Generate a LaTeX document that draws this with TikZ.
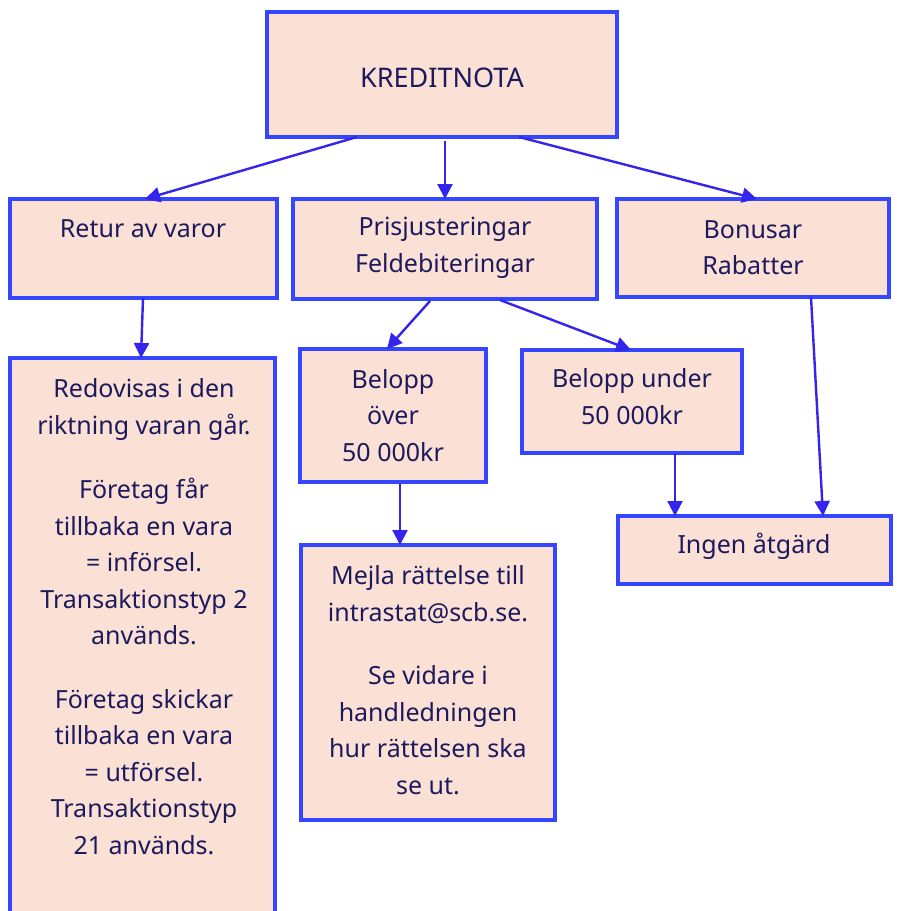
\documentclass[tikz,border=0pt]{standalone}
\usepackage{fontspec}
\setmainfont{Noto Sans}
\usetikzlibrary{arrows.meta,calc}
\definecolor{bord}{RGB}{52,70,255}
\definecolor{arr}{RGB}{52,36,236}
\definecolor{boxfill}{RGB}{251,224,213}
\definecolor{txtc}{RGB}{28,26,92}
\tikzset{
  box/.style={draw=bord, fill=boxfill, line width=4pt, anchor=north west, inner sep=0pt, outer sep=0pt},
  txt/.style={text=txtc, align=center, inner sep=0pt, font=\fontsize{25}{36.5}\selectfont},
  conn/.style={draw=arr, line width=2.4pt, -{Triangle[length=15pt,width=15pt]}},
}
\begin{document}
\begin{tikzpicture}[x=1pt,y=-1pt]
\clip (0,0) rectangle (897,911);
\fill[white] (0,0) rectangle (897,911);
% boxes
\node[box, minimum width=350, minimum height=125] (kred) at (267,12) {};
\node[box, minimum width=267, minimum height=99] (retur) at (10,199) {};
\node[box, minimum width=304, minimum height=100] (pris) at (293,199) {};
\node[box, minimum width=272, minimum height=98] (bonus) at (617,199) {};
\node[box, minimum width=265, minimum height=580] (redov) at (10,358) {};
\node[box, minimum width=186, minimum height=133] (over) at (300,349) {};
\node[box, minimum width=220, minimum height=103] (under) at (522,350) {};
\node[box, minimum width=254, minimum height=275] (mejla) at (301,545) {};
\node[box, minimum width=273, minimum height=68] (ingen) at (618,516) {};
% texts
\node[txt, font=\fontsize{27}{36.5}\selectfont] (kredT) at (442,78) {KREDITNOTA};
\node[txt] (returT) at (143,229) {Retur av varor};
\node[txt] (prisT) at (445,248) {Prisjusteringar\\Feldebiteringar};
\node[txt] (bonusT) at (753,247.5) {Bonusar\\Rabatter};
\node[txt] (overT) at (393,415.5) {Belopp\\över\\50 000kr};
\node[txt] (underT) at (632,396.5) {Belopp under\\50 000kr};
\node[txt] (ingenT) at (754,546) {Ingen åtgärd};
\node[txt] (mejlaT) at (428,680) {Mejla rättelse till\\intrastat@scb.se.\\[27pt]Se vidare i\\handledningen\\hur rättelsen ska\\se ut.};
\node[txt] (redovT) at (144,616.5) {Redovisas i den\\riktning varan går.\\[28pt]Företag får\\tillbaka en vara\\= införsel.\\Transaktionstyp 2\\används.\\[27pt]Företag skickar\\tillbaka en vara\\= utförsel.\\Transaktionstyp\\21 används.};
% connectors
\draw[conn] ($(kred.south west)+(90,0)$) -- ($(retur.north west)+(135,0)$);
\draw[conn] ($(kred.south west)+(178,4)$) -- ($(pris.north west)+(152,0)$);
\draw[conn] ($(kred.south west)+(252,0)$) -- ($(bonus.north west)+(140,0)$);
\draw[conn] ($(retur.south west)+(133,0)$) -- ($(redov.north west)+(131,0)$);
\draw[conn] ($(pris.south west)+(137,2)$) -- ($(over.north west)+(87,0)$);
\draw[conn] ($(pris.south west)+(207,1)$) -- ($(under.north west)+(109,0)$);
\draw[conn] ($(over.south west)+(100,2)$) -- ($(mejla.north west)+(99,0)$);
\draw[conn] ($(under.south west)+(153,0)$) -- ($(ingen.north west)+(57,0)$);
\draw[conn] ($(bonus.south west)+(194,0)$) -- ($(ingen.north west)+(205,0)$);
\end{tikzpicture}
\end{document}
